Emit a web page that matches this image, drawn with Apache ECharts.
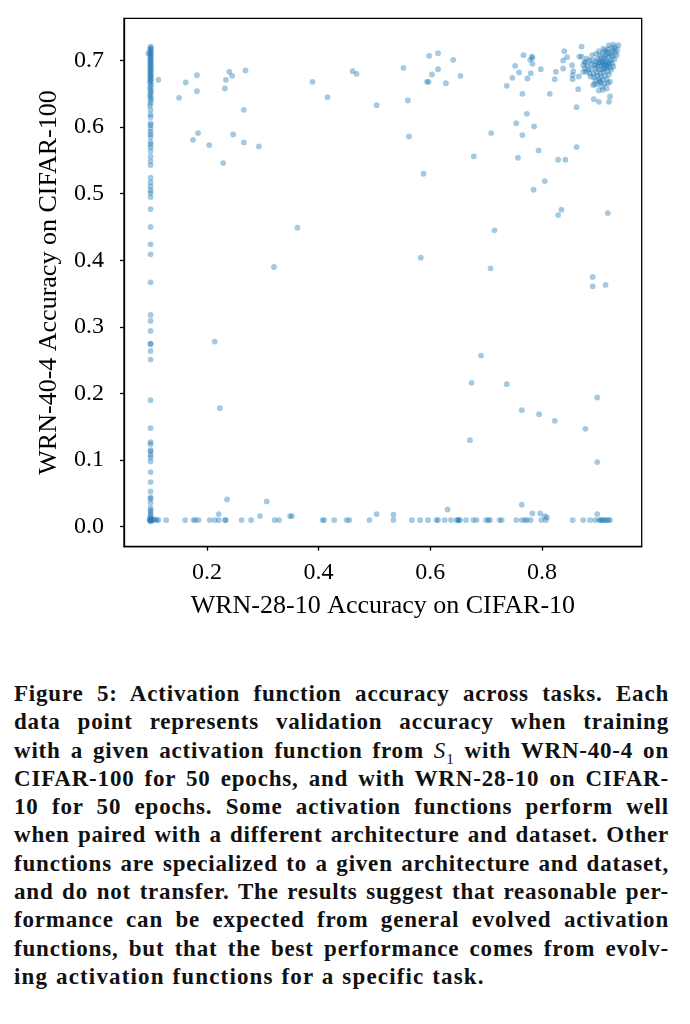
<!DOCTYPE html>
<html>
<head>
<meta charset="utf-8">
<script src="https://cdn.jsdelivr.net/npm/echarts@6/dist/echarts.min.js"></script>
<style>
html,body{margin:0;padding:0;background:#fff;width:690px;height:1024px;overflow:hidden;}
#chart{position:absolute;left:0;top:0;width:690px;height:660px;}
#caption{position:absolute;left:14px;top:680px;width:655px;font-family:"Liberation Serif","Times New Roman",serif;font-weight:bold;font-size:23px;letter-spacing:0.8px;word-spacing:1px;line-height:28.3px;color:#111;}
#caption div{text-align:justify;text-align-last:justify;white-space:nowrap;}
#caption div.last{text-align-last:left;letter-spacing:1.15px;}
#caption i{font-weight:normal;}
#caption sub{font-weight:normal;font-size:15px;line-height:0;}
</style>
</head>
<body>
<div id="chart"></div>
<div id="caption">
<div>Figure 5: Activation function accuracy across tasks. Each</div>
<div>data point represents validation accuracy when training</div>
<div>with a given activation function from <i>S</i><sub>1</sub> with WRN-40-4 on</div>
<div>CIFAR-100 for 50 epochs, and with WRN-28-10 on CIFAR-</div>
<div>10 for 50 epochs. Some activation functions perform well</div>
<div>when paired with a different architecture and dataset. Other</div>
<div>functions are specialized to a given architecture and dataset,</div>
<div>and do not transfer. The results suggest that reasonable per-</div>
<div>formance can be expected from general evolved activation</div>
<div>functions, but that the best performance comes from evolv-</div>
<div class="last">ing activation functions for a specific task.</div>
</div>
<script>
// Axis tick values
var xTicks = [0.2, 0.4, 0.6, 0.8];
var yTicks = [0.0, 0.1, 0.2, 0.3, 0.4, 0.5, 0.6, 0.7];
var xLabel = 'WRN-28-10 Accuracy on CIFAR-10';
var yLabel = 'WRN-40-4 Accuracy on CIFAR-100';

// Points at chance level on CIFAR-10 (x ~ 0.1)
var columnPoints = [
 [0.095,0.711],[0.099,0.721],[0.100,0.719],[0.098,0.717],[0.099,0.715],[0.100,0.713],[0.099,0.711],[0.098,0.709],
 [0.100,0.707],[0.099,0.705],[0.098,0.703],[0.100,0.701],[0.099,0.699],[0.099,0.697],[0.098,0.695],[0.100,0.693],
 [0.099,0.691],[0.098,0.689],[0.100,0.687],[0.099,0.685],[0.099,0.683],[0.098,0.681],[0.100,0.679],[0.099,0.677],
 [0.098,0.675],[0.100,0.673],[0.099,0.671],[0.099,0.669],[0.098,0.667],[0.100,0.664],[0.099,0.661],[0.098,0.658],
 [0.100,0.655],[0.099,0.652],[0.099,0.649],[0.098,0.646],[0.100,0.643],[0.099,0.640],[0.099,0.636],[0.098,0.632],
 [0.099,0.626],[0.099,0.619],[0.099,0.615],[0.099,0.606],[0.099,0.603],[0.099,0.598],[0.099,0.593],[0.099,0.589],
 [0.099,0.585],[0.099,0.578],[0.099,0.574],[0.099,0.570],[0.099,0.564],[0.099,0.556],[0.099,0.549],[0.099,0.543],
 [0.099,0.524],[0.099,0.517],[0.099,0.511],[0.099,0.505],[0.099,0.501],[0.099,0.495],[0.099,0.477],[0.099,0.450],
 [0.099,0.424],[0.099,0.409],[0.099,0.367],[0.099,0.318],[0.099,0.309],[0.099,0.294],[0.099,0.275],[0.099,0.274],
 [0.099,0.264],[0.099,0.251],[0.099,0.190],[0.099,0.148],[0.099,0.127],[0.099,0.124],[0.099,0.115],[0.099,0.113],
 [0.099,0.108],[0.099,0.104],[0.099,0.098],[0.099,0.082],[0.099,0.067],[0.099,0.053],[0.099,0.044],[0.099,0.042],
 [0.099,0.036],[0.099,0.028],[0.099,0.025],[0.099,0.022],[0.099,0.019],[0.099,0.016],[0.098,0.013],[0.100,0.011],
 [0.099,0.010],[0.098,0.009],[0.100,0.008],[0.097,0.010],[0.101,0.012]
];

// Points at chance level on CIFAR-100 (y ~ 0.01)
var bottomRowPoints = [
 [0.104,0.010],[0.107,0.011],[0.110,0.010],[0.113,0.010],[0.127,0.010],[0.161,0.010],[0.176,0.010],[0.179,0.010],
 [0.185,0.010],[0.205,0.010],[0.214,0.010],[0.221,0.010],[0.232,0.010],[0.234,0.010],[0.262,0.010],[0.279,0.010],
 [0.321,0.010],[0.329,0.010],[0.407,0.010],[0.410,0.010],[0.428,0.010],[0.450,0.010],[0.455,0.010],[0.491,0.010],
 [0.534,0.010],[0.567,0.010],[0.582,0.010],[0.596,0.010],[0.611,0.010],[0.614,0.010],[0.626,0.010],[0.637,0.010],
 [0.647,0.010],[0.650,0.010],[0.653,0.010],[0.651,0.010],[0.664,0.010],[0.677,0.010],[0.683,0.010],[0.700,0.010],
 [0.704,0.010],[0.707,0.010],[0.724,0.010],[0.728,0.010],[0.754,0.010],[0.764,0.010],[0.770,0.010],[0.773,0.010],
 [0.780,0.010],[0.799,0.010],[0.807,0.010],[0.855,0.010],[0.874,0.010],[0.886,0.010],[0.895,0.010],[0.902,0.010],
 [0.905,0.010],[0.907,0.010],[0.910,0.010],[0.913,0.010],[0.916,0.010],[0.919,0.010],[0.922,0.010]
];

// Scattered points across the plot
var scatteredPoints = [
 [0.113,0.671],[0.150,0.644],[0.162,0.667],[0.182,0.678],[0.182,0.654],[0.175,0.581],[0.184,0.591],[0.204,0.573],
 [0.229,0.546],[0.232,0.658],[0.234,0.671],[0.240,0.683],[0.245,0.677],[0.247,0.589],[0.266,0.626],[0.266,0.577],
 [0.269,0.685],[0.293,0.571],[0.362,0.449],[0.320,0.390],[0.389,0.668],[0.416,0.645],[0.461,0.684],[0.468,0.680],
 [0.504,0.633],
 [0.552,0.689],[0.560,0.640],[0.562,0.586],[0.588,0.530],[0.583,0.404],[0.598,0.707],[0.614,0.711],[0.603,0.679],
 [0.614,0.687],[0.594,0.668],[0.597,0.668],[0.628,0.666],[0.641,0.701],[0.654,0.677],[0.678,0.556],[0.709,0.591],
 [0.715,0.445],[0.708,0.388],[0.737,0.662],[0.747,0.674],[0.752,0.692],[0.759,0.682],[0.754,0.606],[0.765,0.650],
 [0.765,0.588],[0.757,0.554],[0.773,0.620],[0.786,0.601],[0.794,0.565],[0.785,0.506],[0.805,0.519],[0.767,0.708],
 [0.782,0.706],[0.783,0.704],[0.779,0.701],[0.783,0.695],[0.774,0.673],[0.780,0.681],[0.829,0.551],[0.842,0.551],
 [0.835,0.476],[0.829,0.468],[0.862,0.570],[0.918,0.471],[0.891,0.375],[0.891,0.361],[0.914,0.363],
 [0.214,0.278],[0.223,0.178],[0.236,0.041],[0.221,0.019],[0.307,0.038],[0.295,0.016],[0.349,0.016],[0.352,0.016],
 [0.504,0.019],[0.534,0.018],[0.691,0.257],[0.674,0.216],[0.737,0.214],[0.764,0.175],[0.795,0.169],[0.823,0.159],
 [0.878,0.147],[0.899,0.194],[0.899,0.097],[0.671,0.130],[0.631,0.026],[0.764,0.033],[0.783,0.020],[0.797,0.020],
 [0.805,0.016],[0.809,0.014],[0.899,0.019]
];

// Upper-right region: good on both tasks
var topRightPoints = [
 [0.798,0.687],[0.814,0.650],[0.823,0.672],[0.825,0.683],[0.840,0.714],[0.838,0.700],[0.845,0.705],[0.838,0.688],
 [0.871,0.721],[0.867,0.706],[0.871,0.706],[0.854,0.693],[0.856,0.684],[0.855,0.678],[0.855,0.672],[0.866,0.676],
 [0.874,0.683],[0.876,0.698],[0.862,0.630],[0.865,0.657],[0.893,0.642],[0.902,0.638],[0.920,0.638],[0.922,0.646],
 [0.902,0.655],[0.909,0.656],[0.916,0.658],[0.892,0.663],[0.904,0.668],[0.922,0.668],[0.890,0.708],
 [0.920,0.723],[0.928,0.724],[0.937,0.723],[0.935,0.716],[0.934,0.708],[0.931,0.720],[0.925,0.719],[0.918,0.717],
 [0.913,0.715],[0.926,0.713],[0.932,0.712],[0.921,0.711],[0.915,0.709],[0.909,0.712],[0.904,0.708],[0.927,0.706],
 [0.919,0.705],[0.912,0.703],[0.906,0.704],[0.900,0.702],[0.930,0.702],[0.923,0.700],[0.916,0.699],[0.909,0.698],
 [0.902,0.697],[0.896,0.699],[0.890,0.700],[0.926,0.696],[0.919,0.694],[0.913,0.693],[0.907,0.692],[0.900,0.691],
 [0.894,0.693],[0.888,0.694],[0.882,0.692],[0.922,0.690],[0.915,0.689],[0.908,0.687],[0.902,0.686],[0.896,0.688],
 [0.889,0.687],[0.883,0.686],[0.877,0.688],[0.918,0.684],[0.911,0.683],[0.905,0.681],[0.898,0.682],[0.892,0.680],
 [0.885,0.681],[0.879,0.683],[0.920,0.679],[0.913,0.677],[0.906,0.676],[0.899,0.677],[0.893,0.675],[0.887,0.676],
 [0.916,0.672],[0.909,0.671],[0.902,0.672],[0.896,0.670],[0.904,0.668],[0.894,0.665],[0.912,0.665],[0.918,0.666],
 [0.900,0.664],[0.908,0.661],[0.910,0.718],[0.902,0.714],[0.897,0.710],[0.885,0.700],[0.878,0.697],[0.874,0.693],
 [0.880,0.703],[0.914,0.697],[0.910,0.694],[0.917,0.691],[0.905,0.696],[0.911,0.688],[0.924,0.686],[0.898,0.694],
 [0.928,0.691],[0.921,0.697],[0.906,0.700],[0.913,0.706],[0.924,0.708],[0.917,0.713],[0.929,0.716]
];

var FONT = '"Liberation Serif","Times New Roman",serif';
var allPoints = columnPoints.concat(bottomRowPoints, scatteredPoints, topRightPoints);

var chart = echarts.init(document.getElementById('chart'), null, {renderer: 'canvas'});
chart.setOption({
  animation: false,
  backgroundColor: '#fff',
  grid: {left: 124, top: 18.3, width: 517.7, height: 528.4, show: true, borderColor: '#000', borderWidth: 1.3, containLabel: false},
  xAxis: {
    type: 'value', min: 0.0514, max: 0.9787,
    splitLine: {show: false},
    axisLine: {show: true, onZero: false, lineStyle: {color: '#000', width: 1.3}},
    axisTick: {show: true, length: 4, customValues: xTicks, lineStyle: {color: '#000', width: 1.3}},
    axisLabel: {customValues: xTicks, formatter: function (v) { return v.toFixed(1); }, fontFamily: FONT, fontSize: 24, color: '#000', margin: 14},
    name: xLabel, nameLocation: 'middle', nameGap: 46,
    nameTextStyle: {fontFamily: FONT, fontSize: 26, color: '#000'}
  },
  yAxis: {
    type: 'value', min: -0.030, max: 0.7634,
    splitLine: {show: false},
    axisLine: {show: true, onZero: false, lineStyle: {color: '#000', width: 1.3}},
    axisTick: {show: true, length: 4, customValues: yTicks, lineStyle: {color: '#000', width: 1.3}},
    axisLabel: {customValues: yTicks, formatter: function (v) { return v.toFixed(1); }, fontFamily: FONT, fontSize: 24, color: '#000', margin: 20},
    name: yLabel, nameLocation: 'middle', nameGap: 62, nameRotate: 90,
    nameTextStyle: {fontFamily: FONT, fontSize: 26, color: '#000'}
  },
  series: [{
    type: 'scatter',
    data: allPoints,
    symbol: 'circle',
    symbolSize: 5.8,
    itemStyle: {color: 'rgba(31,119,180,0.5)', borderWidth: 0}
  }]
});
</script>
</body>
</html>
